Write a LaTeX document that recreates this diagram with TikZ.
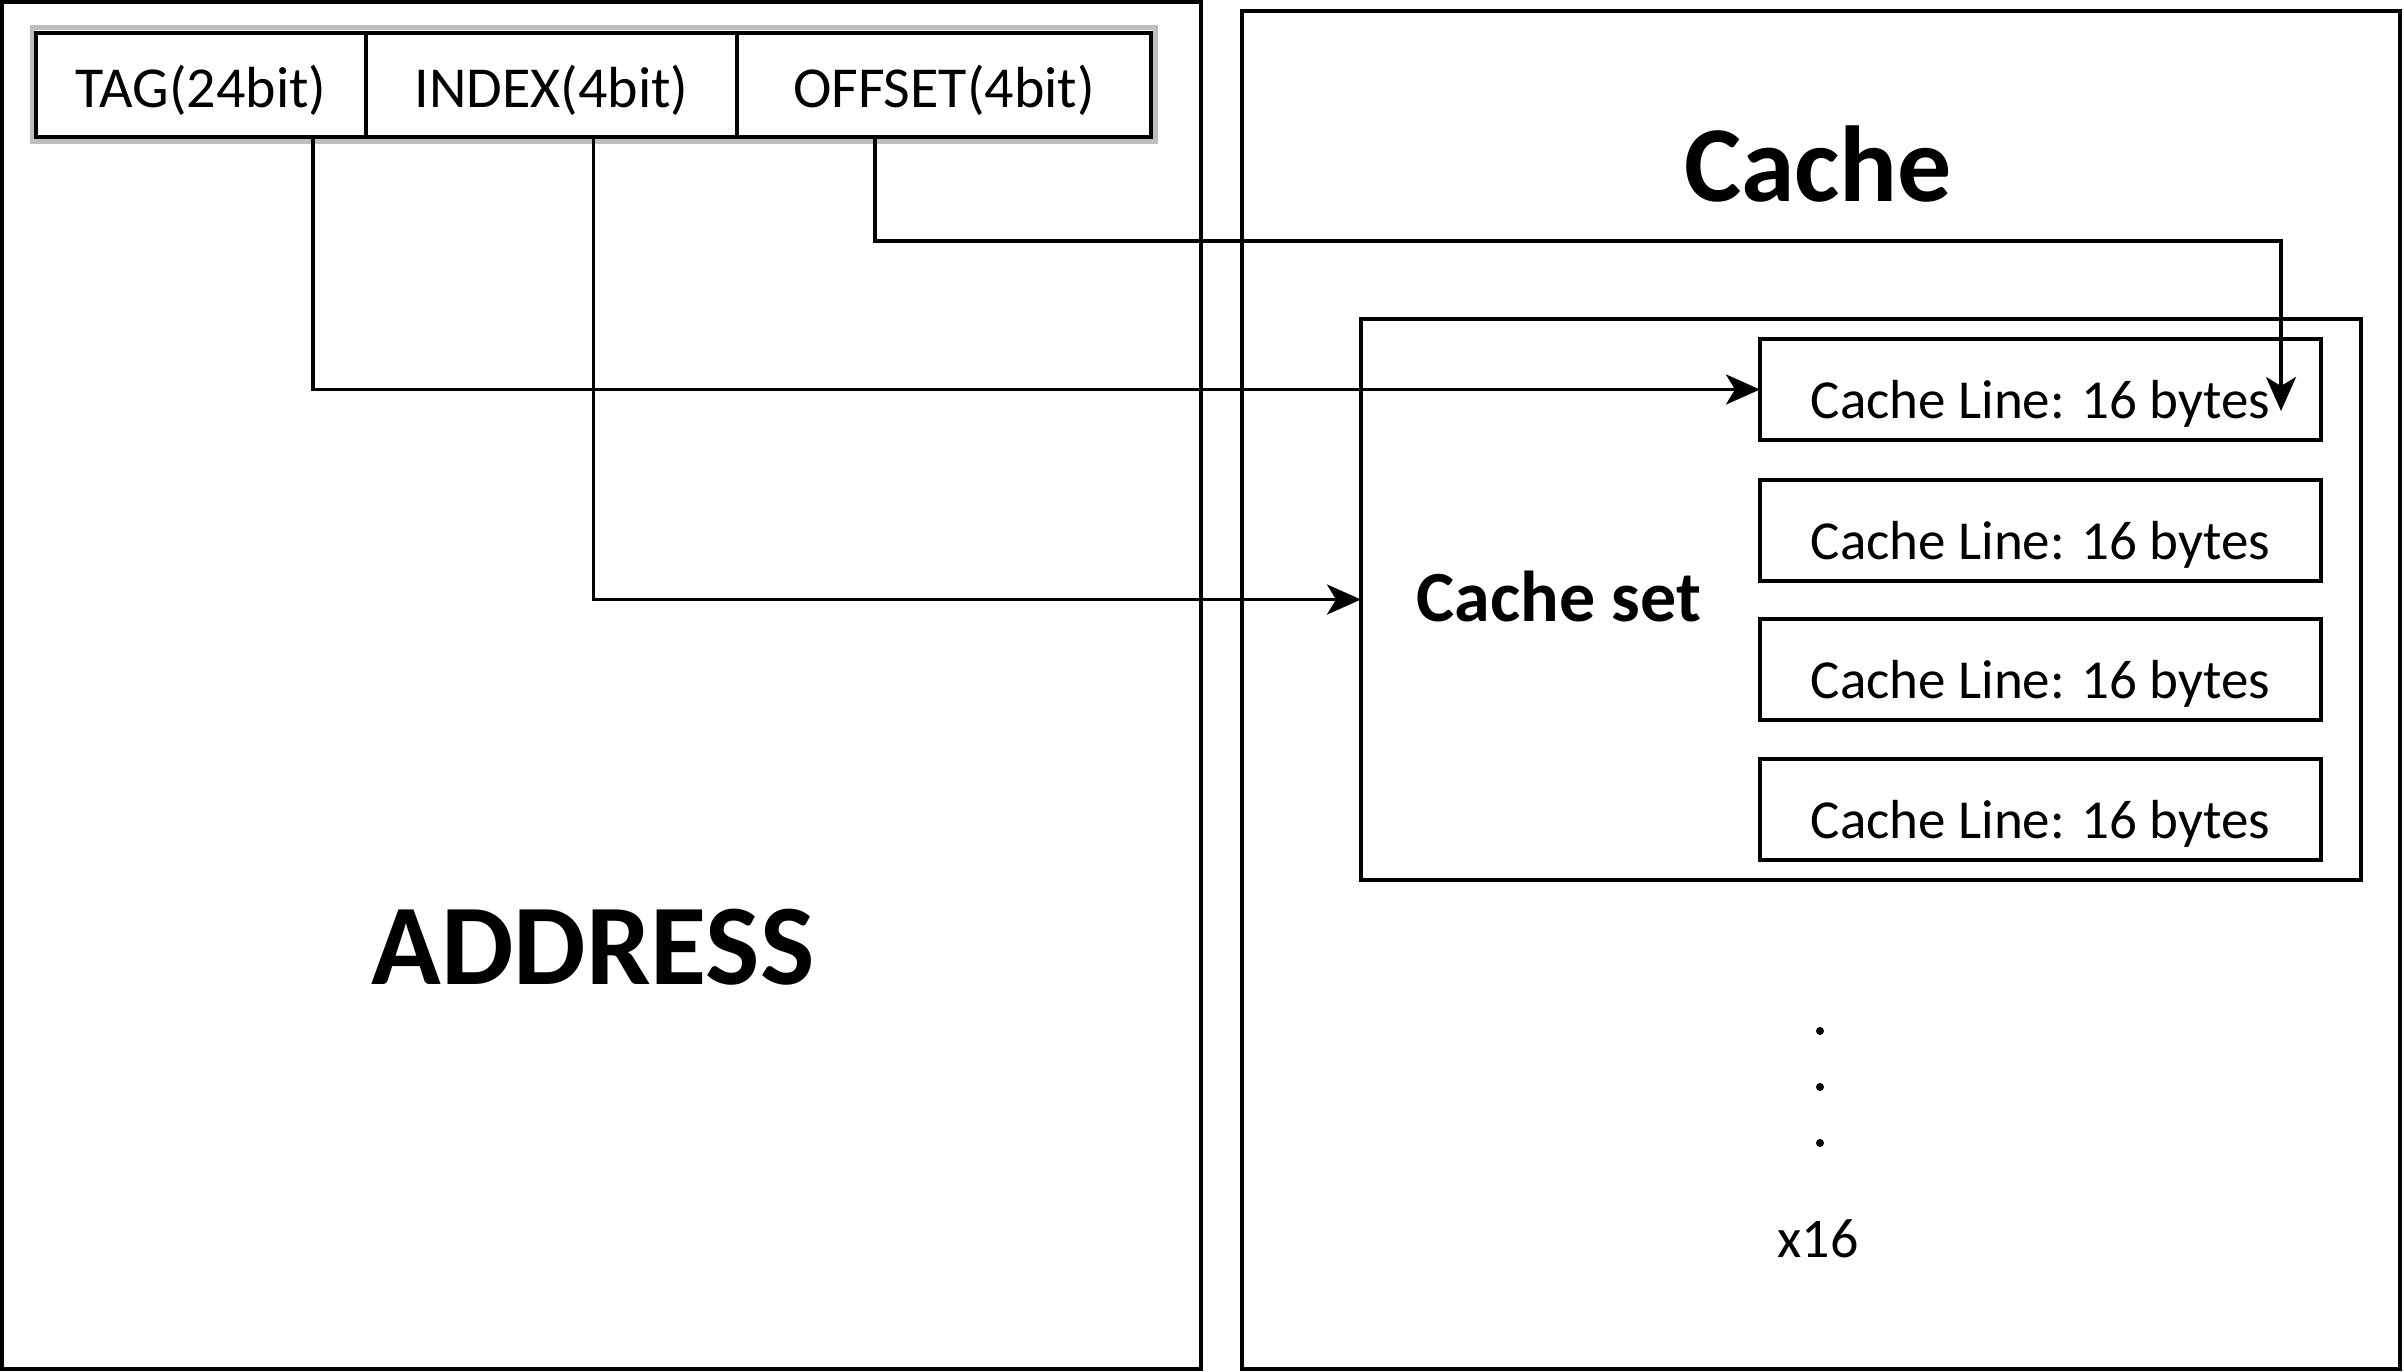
\documentclass[tikz,border=0pt]{standalone}
\usepackage{fontspec}
\setmainfont{Carlito}
\usetikzlibrary{arrows.meta}
\definecolor{framegray}{RGB}{190,190,190}
\tikzset{
  box/.style={draw, line width=3.5pt, inner sep=0pt, outer sep=0pt, anchor=north west},
  field/.style={box, minimum height=104pt, text height=45pt, text depth=0pt, font=\fontsize{58}{60}\selectfont},
  linebox/.style={box, minimum width=561pt, minimum height=101pt, text height=57pt, text depth=0pt, font=\fontsize{55}{58}\selectfont},
  conn/.style={line width=3.5pt, -{Stealth[length=34pt,width=30pt,inset=9pt]}},
}
\begin{document}
\begin{tikzpicture}[x=1pt,y=-1pt]
\useasboundingbox (0,0) rectangle (2404,1372);
% big frames
\node[box, minimum width=1199pt, minimum height=1367pt] (addrframe) at (2,2) {};
\node[box, minimum width=1158pt, minimum height=1358pt] (cacheframe) at (1242,11) {};
% address fields
\draw[framegray, line width=5pt] (32,28) rectangle (1155,142);
\node[field, minimum width=330pt] (tag) at (36,33) {TAG(24bit)};
\node[field, minimum width=371pt] (idx) at (366,33) {INDEX(4bit)};
\node[field, minimum width=414pt] (off) at (737,33) {OFFSET(4bit)};
% titles
\node[font=\bfseries\fontsize{115}{120}\selectfont] (addrtitle) at (593,947) {ADDRESS};
\node[font=\bfseries\fontsize{108}{112}\selectfont] (cachetitle) at (1818,164) {Cache};
% cache set
\node[box, minimum width=1000pt, minimum height=561pt] (cset) at (1361,319) {};
\node[font=\bfseries\fontsize{72}{76}\selectfont] (csettext) at (1559,597) {Cache set};
\node[linebox] (line1) at (1760,339) {Cache Line: 16 bytes};
\node[linebox] (line2) at (1760,480) {Cache Line: 16 bytes};
\node[linebox] (line3) at (1760,619) {Cache Line: 16 bytes};
\node[linebox] (line4) at (1760,759) {Cache Line: 16 bytes};
% dots and multiplier
\fill (1820,1031) circle (4pt);
\fill (1820,1087) circle (4pt);
\fill (1820,1143) circle (4pt);
\node[font=\fontsize{56}{60}\selectfont] (mult) at (1818,1239) {x16};
% connectors
\coordinate (offturn) at (2281,241);
\coordinate (offtip) at (2281,411);
\draw[conn] ([xshift=112pt]tag.south) |- (line1.west);
\draw[conn] ([xshift=42pt]idx.south) |- (cset.west);
\draw[conn] ([xshift=-69pt]off.south) |- (offturn) -- (offtip);
\end{tikzpicture}
\end{document}
